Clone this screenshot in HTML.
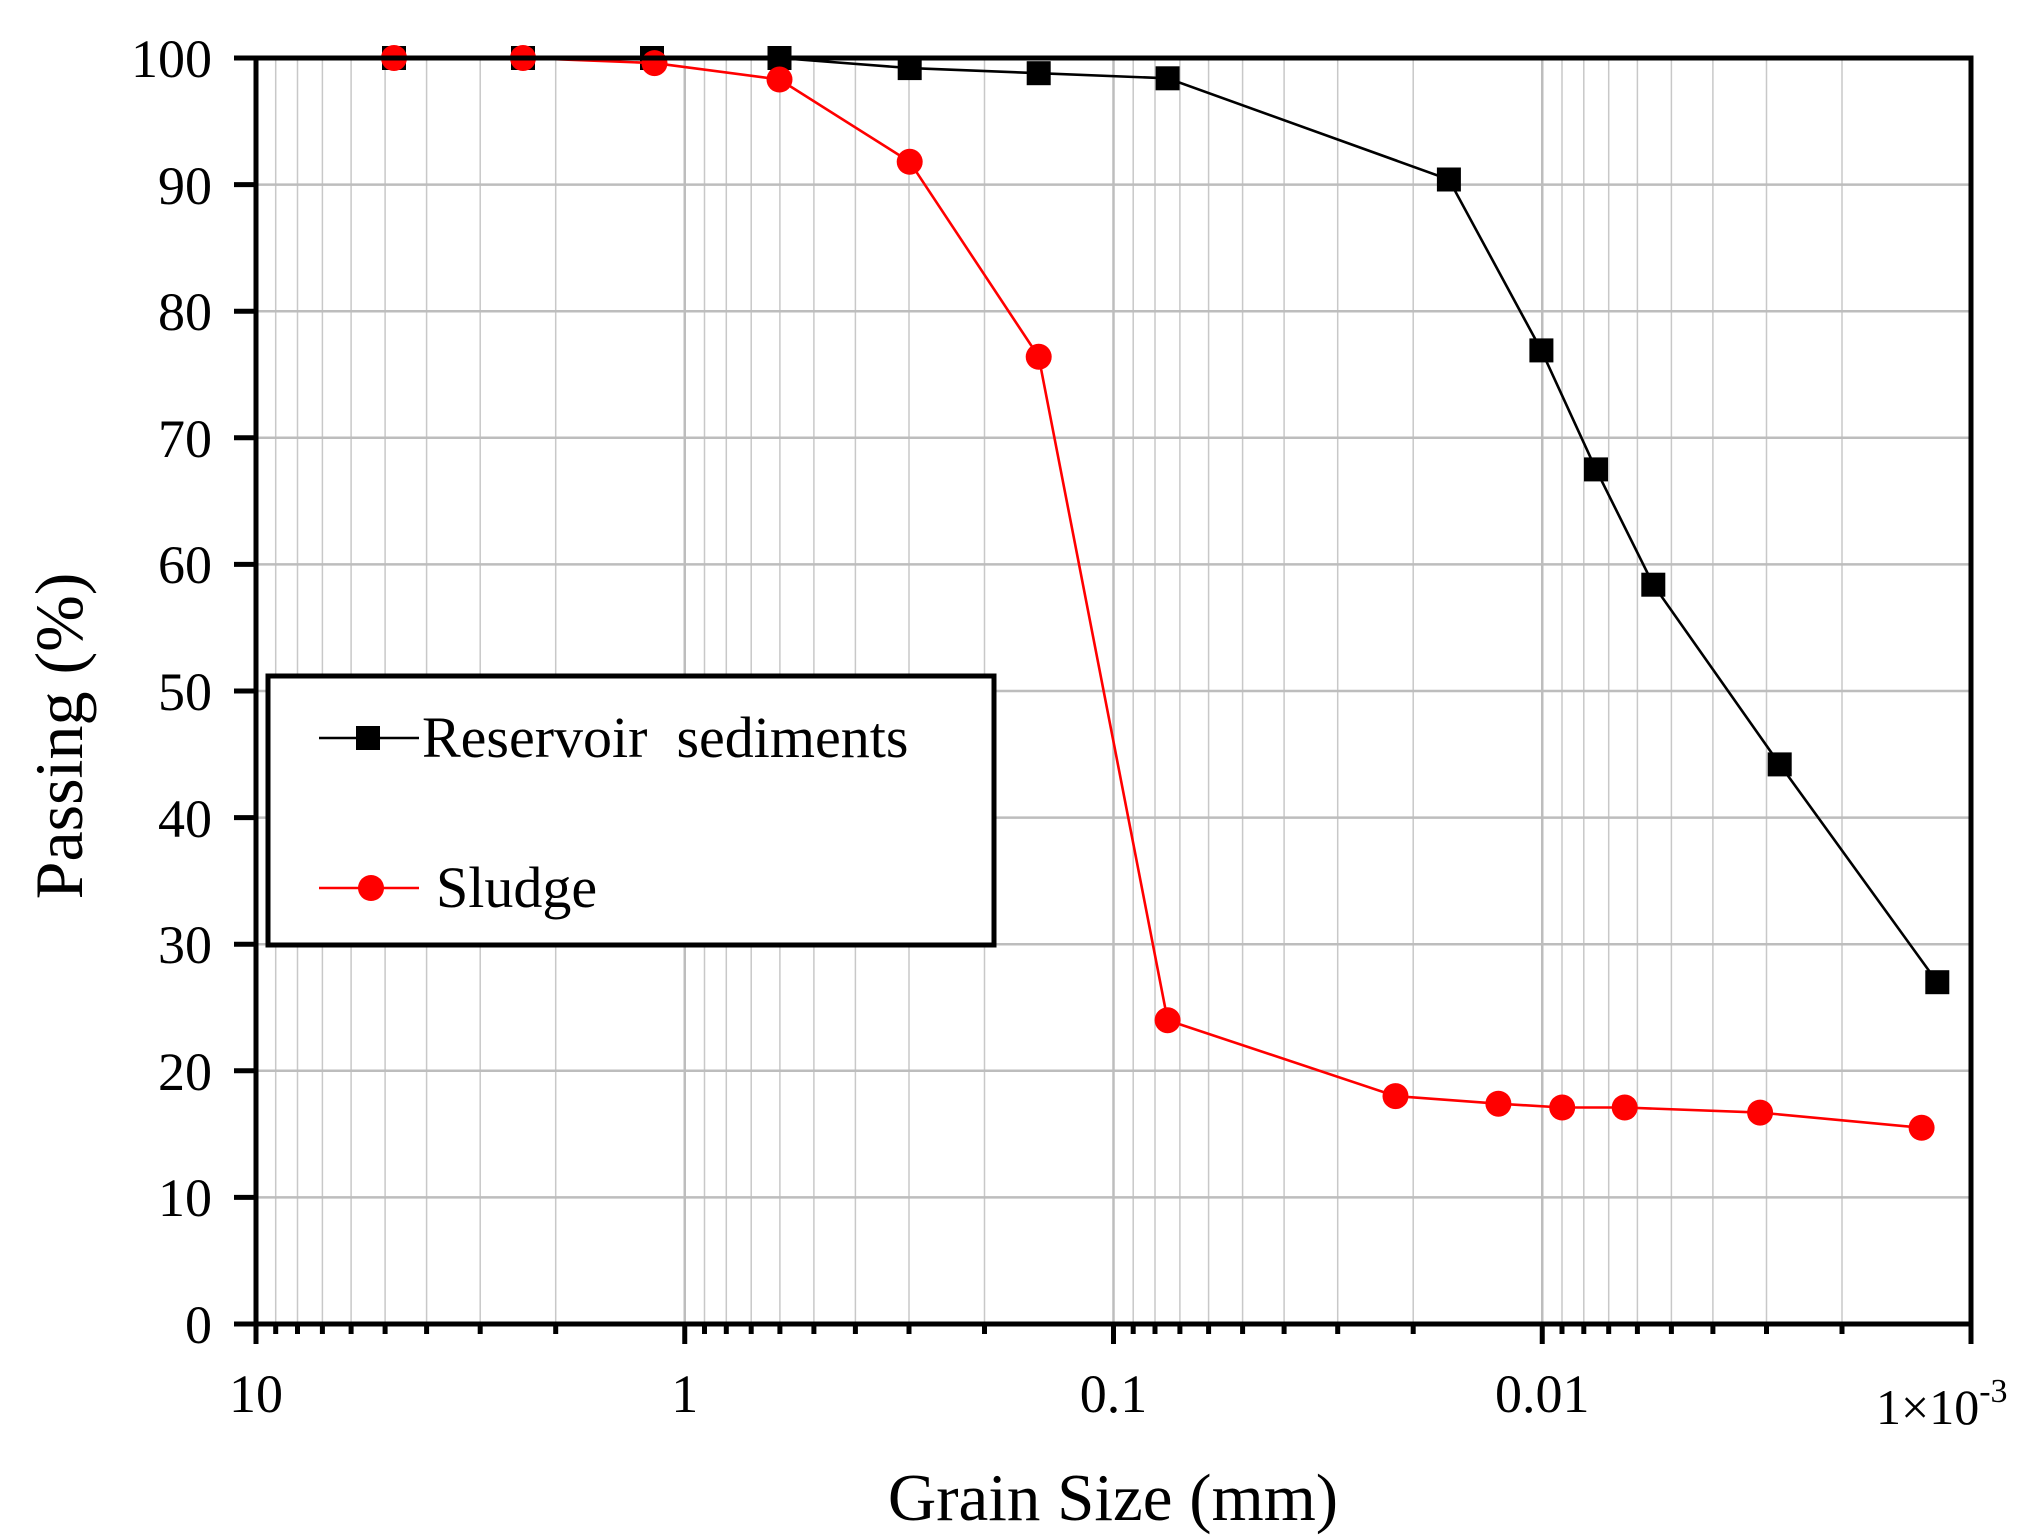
<!DOCTYPE html>
<html><head><meta charset="utf-8"><style>
html,body{margin:0;padding:0;background:#fff}
svg{display:block}
text{font-family:"Liberation Serif",serif;fill:#000}
</style></head><body>
<svg width="2042" height="1540" viewBox="0 0 2042 1540" xmlns="http://www.w3.org/2000/svg">
<g stroke="#c8c8c8" stroke-width="1.5" fill="none">
<path d="M275.7 58V1324M297.5 58V1324M322.4 58V1324M351.1 58V1324M385.1 58V1324M426.6 58V1324M480.2 58V1324M555.7 58V1324
M704.5 58V1324M726.3 58V1324M751.2 58V1324M779.9 58V1324M813.9 58V1324M855.4 58V1324M909 58V1324M984.5 58V1324
M1133.2 58V1324M1155 58V1324M1179.9 58V1324M1208.6 58V1324M1242.6 58V1324M1284.1 58V1324M1337.7 58V1324M1413.2 58V1324
M1562 58V1324M1583.8 58V1324M1608.7 58V1324M1637.4 58V1324M1671.4 58V1324M1712.9 58V1324M1766.5 58V1324M1842 58V1324"/>
</g>
<g stroke="#bdbdbd" stroke-width="2.5" fill="none">
<path d="M684.75 58V1324M1113.5 58V1324M1542.25 58V1324"/>
<path d="M256 184.6H1971M256 311.2H1971M256 437.8H1971M256 564.4H1971M256 691H1971M256 817.6H1971M256 944.2H1971M256 1070.8H1971M256 1197.4H1971"/>
</g>
<g stroke="#000" stroke-width="5" fill="none">
<rect x="256" y="58" width="1715" height="1266"/>
<path d="M234 58H256M234 184.6H256M234 311.2H256M234 437.8H256M234 564.4H256M234 691H256M234 817.6H256M234 944.2H256M234 1070.8H256M234 1197.4H256M234 1324H256"/>
<path d="M256 1324V1344M684.75 1324V1344M1113.5 1324V1344M1542.25 1324V1344M1971 1324V1344"/>
<path d="M275.7 1324v10M297.5 1324v10M322.4 1324v10M351.1 1324v10M385.1 1324v10M426.6 1324v10M480.2 1324v10M555.7 1324v10
M704.5 1324v10M726.3 1324v10M751.2 1324v10M779.9 1324v10M813.9 1324v10M855.4 1324v10M909 1324v10M984.5 1324v10
M1133.2 1324v10M1155 1324v10M1179.9 1324v10M1208.6 1324v10M1242.6 1324v10M1284.1 1324v10M1337.7 1324v10M1413.2 1324v10
M1562 1324v10M1583.8 1324v10M1608.7 1324v10M1637.4 1324v10M1671.4 1324v10M1712.9 1324v10M1766.5 1324v10M1842 1324v10"/>
</g>
<polyline fill="none" stroke="#000" stroke-width="2.6" points="394,58 523,58 652,58 779.5,58 909.7,68.1 1038.7,73.2 1167.6,78.3 1448.9,179.5 1541.4,350.4 1596,469.4 1653.3,584.7 1779.7,764.4 1937.3,982.2"/>
<g fill="#000">
<rect x="382" y="46" width="24" height="24"/><rect x="511" y="46" width="24" height="24"/><rect x="640" y="46" width="24" height="24"/><rect x="767.5" y="46" width="24" height="24"/><rect x="897.7" y="56.1" width="24" height="24"/><rect x="1026.7" y="61.2" width="24" height="24"/><rect x="1155.6" y="66.3" width="24" height="24"/><rect x="1436.9" y="167.5" width="24" height="24"/><rect x="1529.4" y="338.4" width="24" height="24"/><rect x="1584" y="457.4" width="24" height="24"/><rect x="1641.3" y="572.7" width="24" height="24"/><rect x="1767.7" y="752.4" width="24" height="24"/><rect x="1925.3" y="970.2" width="24" height="24"/>
</g>
<polyline fill="none" stroke="#f00" stroke-width="2.6" points="394,58 523,58 654.5,63.1 779.5,79.5 909.7,161.8 1038.7,356.8 1167.6,1020.2 1395.5,1096.1 1498.4,1103.7 1562.2,1107.5 1624.7,1107.5 1760.1,1112.6 1921.6,1127.8"/>
<g fill="#f00">
<circle cx="394" cy="58" r="13"/><circle cx="523" cy="58" r="13"/><circle cx="654.5" cy="63.1" r="13"/><circle cx="779.5" cy="79.5" r="13"/><circle cx="909.7" cy="161.8" r="13"/><circle cx="1038.7" cy="356.8" r="13"/><circle cx="1167.6" cy="1020.2" r="13"/><circle cx="1395.5" cy="1096.1" r="13"/><circle cx="1498.4" cy="1103.7" r="13"/><circle cx="1562.2" cy="1107.5" r="13"/><circle cx="1624.7" cy="1107.5" r="13"/><circle cx="1760.1" cy="1112.6" r="13"/><circle cx="1921.6" cy="1127.8" r="13"/>
</g>
<path d="M256 58H1971" stroke="#000" stroke-width="5"/>
<g font-size="54" text-anchor="end">
<text x="212" y="77">100</text><text x="212" y="204">90</text><text x="212" y="330">80</text><text x="212" y="457">70</text><text x="212" y="583">60</text><text x="212" y="710">50</text><text x="212" y="837">40</text><text x="212" y="963">30</text><text x="212" y="1090">20</text><text x="212" y="1216">10</text><text x="212" y="1343">0</text>
</g>
<g font-size="54" text-anchor="middle">
<text x="256" y="1412">10</text><text x="684.75" y="1412">1</text><text x="1113.5" y="1412">0.1</text><text x="1542.25" y="1412">0.01</text>
</g>
<text x="1876" y="1424" font-size="50">1×10<tspan font-size="34" dy="-22">-3</tspan></text>
<text x="1113" y="1520" font-size="67" text-anchor="middle">Grain Size (mm)</text>
<text transform="translate(82,736) rotate(-90)" font-size="68" text-anchor="middle">Passing (%)</text>
<rect x="268" y="676" width="726" height="269" fill="#fff" stroke="#000" stroke-width="5"/>
<path d="M319 738H419" stroke="#000" stroke-width="2.6"/>
<rect x="356" y="726" width="24" height="24" fill="#000"/>
<text x="422" y="757" font-size="58" xml:space="preserve">Reservoir  sediments</text>
<path d="M319 888H419" stroke="#f00" stroke-width="2.6"/>
<circle cx="371" cy="888" r="13" fill="#f00"/>
<text x="436" y="907" font-size="58">Sludge</text>
</svg>
</body></html>
